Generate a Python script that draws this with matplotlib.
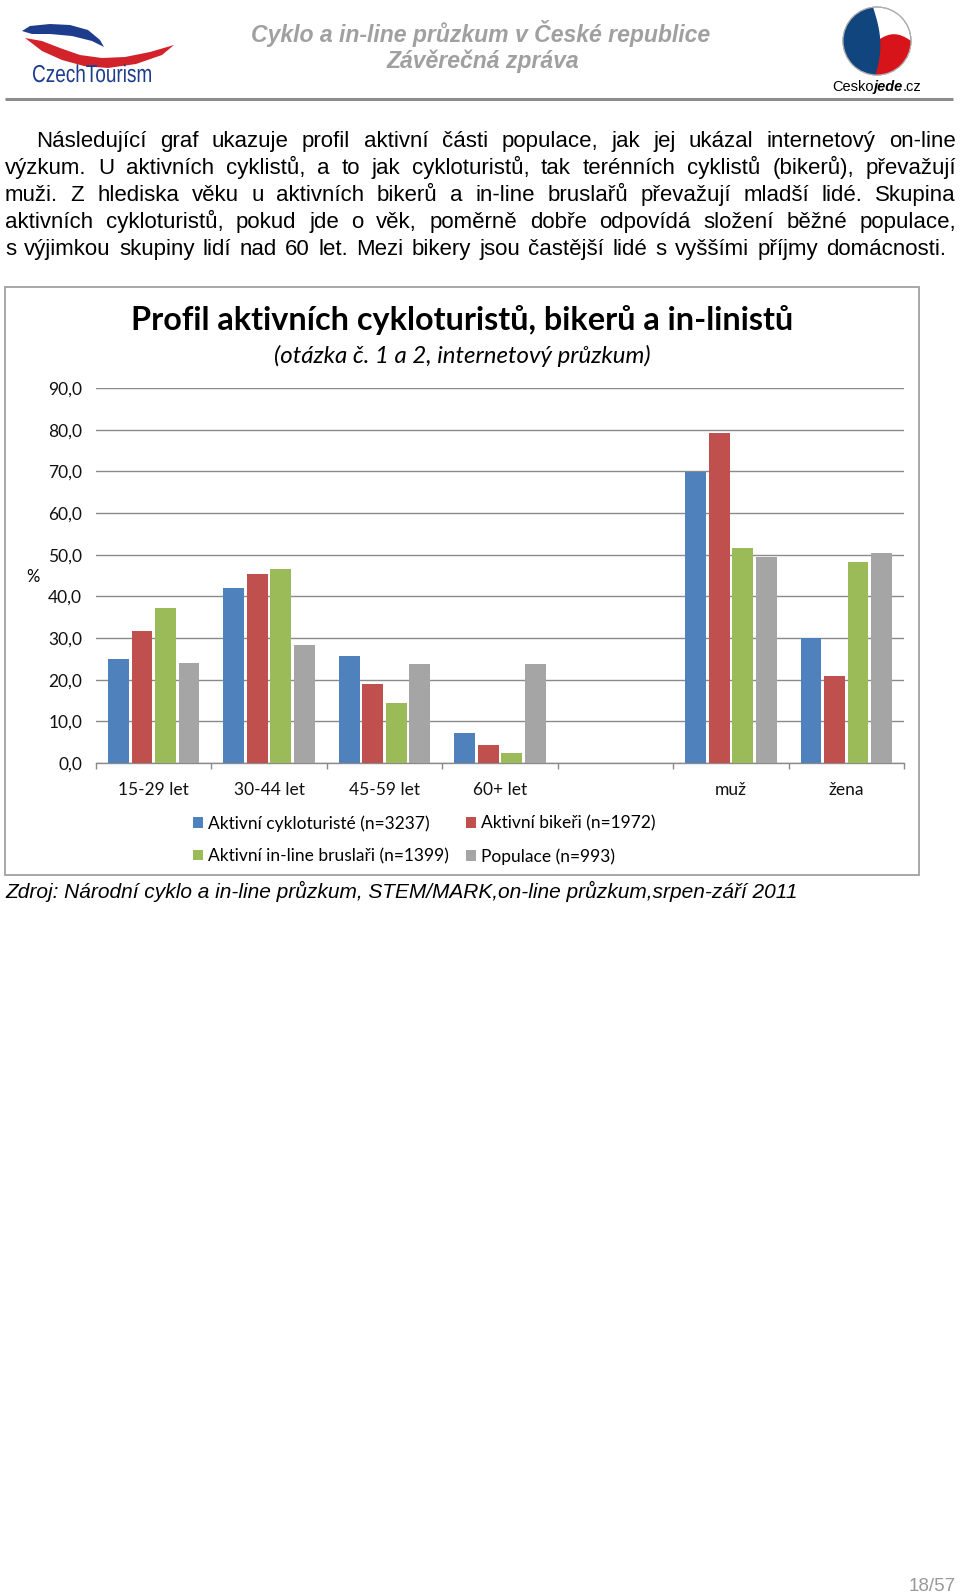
import matplotlib
matplotlib.use("Agg")
import matplotlib.pyplot as plt
import numpy as np
from matplotlib.patches import Rectangle, Polygon, Circle, PathPatch
from matplotlib.font_manager import FontProperties
from matplotlib.textpath import TextPath
from matplotlib.transforms import Affine2D

# ---------------- data ----------------
categories = ["15-29 let", "30-44 let", "45-59 let", "60+ let", "", "muž", "žena"]
series_names = ["Aktivní cykloturisté (n=3237)", "Aktivní bikeři (n=1972)",
                "Aktivní in-line bruslaři (n=1399)", "Populace (n=993)"]
cykloturiste = [25.0, 42.0, 25.8, 7.1, None, 69.9, 30.0]
bikeri = [31.7, 45.4, 18.9, 4.3, None, 79.1, 21.0]
inline_bruslari = [37.1, 46.5, 14.4, 2.4, None, 51.7, 48.3]
populace = [24.0, 28.3, 23.8, 23.8, None, 49.4, 50.5]
y_ticks = [0, 10, 20, 30, 40, 50, 60, 70, 80, 90]
series_colors = ["#4F81BD", "#C0504D", "#9BBB59", "#A5A5A5"]

chart_title = "Profil aktivních cykloturistů, bikerů a in-linistů"
chart_subtitle = "(otázka č. 1 a 2, internetový průzkum)"
header_line1 = "Cyklo a in-line průzkum v České republice"
header_line2 = "Závěrečná zpráva"
paragraph = [
    "Následující graf ukazuje profil aktivní části populace, jak jej ukázal internetový on-line",
    "výzkum. U aktivních cyklistů, a to jak cykloturistů, tak terénních cyklistů (bikerů), převažují",
    "muži. Z hlediska věku u aktivních bikerů a in-line bruslařů převažují mladší lidé. Skupina",
    "aktivních cykloturistů, pokud jde o věk, poměrně dobře odpovídá složení běžné populace,",
    "s výjimkou skupiny lidí nad 60 let. Mezi bikery jsou častější lidé s vyššími příjmy domácnosti.",
]
source_text = "Zdroj: Národní cyklo a in-line průzkum, STEM/MARK,on-line průzkum,srpen-září 2011"
page_text = "18/57"

# ---------------- figure ----------------
W, H = 960, 1594
fig = plt.figure(figsize=(W / 100, H / 100), dpi=100)
fig.patch.set_facecolor("white")

# full-page pixel axes (y downwards)
bg = fig.add_axes([0, 0, 1, 1], zorder=0)
bg.set_xlim(0, W)
bg.set_ylim(H, 0)
bg.axis("off")

renderer = fig.canvas.get_renderer()


def twidth(s, fp):
    w, h, d = renderer.get_text_width_height_descent(s, fp, ismath=False)
    return w


# ---------------- header ----------------
# CzechTourism logo
blue_wing = [(22, 31), (30, 26), (50, 24), (70, 25), (88, 30), (100, 40), (104, 47),
             (92, 41), (72, 36), (50, 34), (32, 34)]
red_wave = [(25, 38), (42, 41), (60, 48), (80, 55), (102, 58), (125, 57), (150, 52),
            (174, 45), (162, 55), (136, 64), (108, 68), (84, 66), (62, 60), (42, 51)]
bg.add_patch(Polygon(blue_wing, closed=True, fc="#1D3C8C", ec="none"))
bg.add_patch(Polygon(red_wave, closed=True, fc="#D2232A", ec="none"))
tp = TextPath((0, 0), "CzechTourism", size=1, prop=FontProperties(family="Liberation Sans"))
ext = tp.get_extents()
sx = 118 / ext.width
sy = 17.5 / 0.716
tr = Affine2D().translate(-ext.x0, 0).scale(sx, -sy).translate(33, 82)
bg.add_patch(PathPatch(tr.transform_path(tp), fc="#1D3C8C", ec="none", lw=0))

# Ceskojede logo
cx, cy, r = 877, 41, 34
circ = Circle((cx, cy), r, fc="white", ec="#9a9a9a", lw=0.8)
bg.add_patch(circ)
t = np.linspace(0, 1, 30)
red_poly = [(cx - r * 0.2 + 1.4 * r * tt, cy + 0.15 * r - 0.35 * r * np.sin(np.pi * tt)) for tt in t]
red_poly += [(cx + r * 1.3, cy + r * 1.3), (cx - r * 0.3, cy + r * 1.3)]
rp = Polygon(red_poly, closed=True, fc="#D7141A", ec="none")
bg.add_patch(rp)
rp.set_clip_path(circ)
blue_poly = [(cx - 0.15 * r + 0.25 * r * np.sin(np.pi * tt * 0.9), cy - r * 1.1 + 2.2 * r * tt) for tt in t]
blue_poly += [(cx - r * 1.3, cy + r * 1.3), (cx - r * 1.3, cy - r * 1.3)]
bp = Polygon(blue_poly, closed=True, fc="#11457E", ec="none")
bg.add_patch(bp)
bp.set_clip_path(circ)
bg.add_patch(Circle((cx, cy), r, fc="none", ec="#b0b0b0", lw=0.8))
fp_a = FontProperties(family="Liberation Sans", size=10.5)
fp_b = FontProperties(family="Liberation Sans", size=10.5, weight="bold", style="italic")
parts = [("Cesko", fp_a), ("jede", fp_b), (".cz", fp_a)]
x0 = 877 - sum(twidth(s, f) for s, f in parts) / 2
for s, f in parts:
    bg.text(x0, 91, s, fontproperties=f, color="black", ha="left", va="baseline")
    x0 += twidth(s, f)

fp_head = FontProperties(family="Liberation Sans", size=16.6, weight="bold", style="italic")
bg.text(481, 42, header_line1, fontproperties=fp_head, color="#a0a0a0", ha="center", va="baseline")
bg.text(483, 68, header_line2, fontproperties=fp_head, color="#a0a0a0", ha="center", va="baseline")
bg.plot([5, 953], [99, 99], color="#8c8c8c", lw=2.2, solid_capstyle="butt")

# ---------------- paragraph (justified) ----------------
fp_body = FontProperties(family="Liberation Sans", size=16)
left_edges = [36, 5, 5, 5, 5]
right_edges = [956, 956, 956, 956, 946]
for i, line in enumerate(paragraph):
    base = 147 + 27 * i
    words = line.split(" ")
    widths = [twidth(w, fp_body) for w in words]
    gap = (right_edges[i] - left_edges[i] - sum(widths)) / (len(words) - 1)
    x = left_edges[i]
    for w, wd in zip(words, widths):
        bg.text(x, base, w, fontproperties=fp_body, color="black", ha="left", va="baseline")
        x += wd + gap

# ---------------- chart frame ----------------
bg.add_patch(Rectangle((5, 287), 914, 588, fc="white", ec="#a0a0a0", lw=1.3))
chart_font = "Lato"
bg.text(462, 330, chart_title, family=chart_font, fontsize=23.3, weight="bold",
        color="black", ha="center", va="baseline")
bg.text(462, 363, chart_subtitle, family=chart_font, fontsize=17.3, style="italic",
        color="black", ha="center", va="baseline")
bg.text(33, 577, "%", family=chart_font, fontsize=12, color="black", ha="center", va="center")

# ---------------- bar chart ----------------
ax = fig.add_axes([96 / W, 1 - 763 / H, (904 - 96) / W, (763 - 388) / H], zorder=2)
ax.patch.set_alpha(0)
x = np.arange(len(categories))
pitch = 0.2036
bar_w = pitch * 0.89
handles = []
for k, (vals, col, name) in enumerate(zip([cykloturiste, bikeri, inline_bruslari, populace],
                                          series_colors, series_names)):
    xs = [xi + (k - 1.5) * pitch for xi, v in zip(x, vals) if v is not None]
    hs = [v for v in vals if v is not None]
    bc = ax.bar(xs, hs, width=bar_w, color=col, label=name, zorder=3)
    handles.append(bc)

ax.set_xlim(-0.5, len(categories) - 0.5)
ax.set_ylim(0, 90)
ax.set_yticks(y_ticks)
ax.set_yticklabels([f"{v:.1f}".replace(".", ",") for v in y_ticks])
ax.set_xticks(x)
ax.set_xticklabels(categories)
ax.set_xticks(np.arange(-0.5, len(categories)), minor=True)
ax.yaxis.grid(True, color="#8a8a8a", lw=1.0, zorder=0)
ax.set_axisbelow(True)
for s in ["left", "right", "top"]:
    ax.spines[s].set_visible(False)
ax.spines["bottom"].set_color("#8a8a8a")
ax.spines["bottom"].set_linewidth(1.0)
ax.tick_params(axis="y", length=0, pad=10, labelsize=12.5, labelcolor="#111111")
ax.tick_params(axis="x", which="major", length=0, pad=14, labelsize=12.5, labelcolor="#111111")
ax.tick_params(axis="x", which="minor", length=4, width=1.0, color="#8a8a8a")
for lab in ax.get_xticklabels() + ax.get_yticklabels():
    lab.set_family(chart_font)

leg = ax.legend(handles=[handles[0], handles[2], handles[1], handles[3]],
                labels=[series_names[0], series_names[2], series_names[1], series_names[3]],
                ncol=2, loc="upper left", bbox_to_anchor=(193, 815), bbox_transform=bg.transData,
                frameon=False, borderpad=0, borderaxespad=0, handlelength=0.58,
                handleheight=0.58, handletextpad=0.3, columnspacing=0.97, labelspacing=0.95,
                prop=FontProperties(family=chart_font, size=12.5))

# ---------------- footer ----------------
fp_src = FontProperties(family="Liberation Sans", size=15, style="italic")
bg.text(5, 898, source_text, fontproperties=fp_src, color="black", ha="left", va="baseline")
bg.text(956, 1591, page_text, family="Liberation Sans", fontsize=13.5, color="#999999",
        ha="right", va="baseline")

fig.savefig("out.png", dpi=100, facecolor="white")
